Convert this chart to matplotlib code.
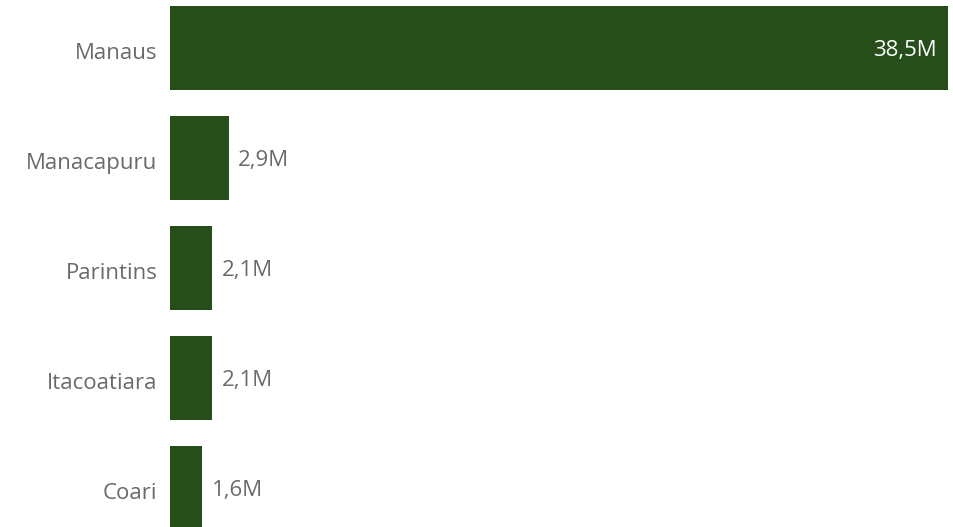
import matplotlib.pyplot as plt
import matplotlib.transforms as mtransforms

# cidades do Amazonas e valores (milhões)
cidades = ['Manaus', 'Manacapuru', 'Parintins', 'Itacoatiara', 'Coari']
valores = [38.5, 2.9, 2.1, 2.1, 1.6]
rotulos = ['38,5M', '2,9M', '2,1M', '2,1M', '1,6M']

verde = '#254e1a'
cinza = '#6a6a6a'

plt.rcParams['font.family'] = ['Open Sans', 'DejaVu Sans']

fig = plt.figure(figsize=(9.54, 5.27), dpi=100)
ax = fig.add_axes([170 / 954, 0, 778 / 954, 1])

pos = list(range(len(cidades)))
ax.barh(pos, valores, height=0.76, color=verde)

ax.set_xlim(0, valores[0])
ax.set_ylim((527 - 48) / 110, -48 / 110)

ax.set_yticks(pos)
ax.set_yticklabels(cidades, color=cinza, fontsize=16)
ax.tick_params(axis='y', length=0, pad=9)
ax.set_xticks([])
for s in ax.spines.values():
    s.set_visible(False)

# desce um pouco os nomes das cidades
desloc = mtransforms.ScaledTranslation(0, -2 / 72, fig.dpi_scale_trans)
for lbl in ax.get_yticklabels():
    lbl.set_transform(lbl.get_transform() + desloc)

# rótulo dentro da barra grande, fora das pequenas
for i, (v, r) in enumerate(zip(valores, rotulos)):
    if v > 10:
        ax.annotate(r, (v, i), xytext=(-8, -2), textcoords='offset points',
                    ha='right', va='center', color='white', fontsize=16)
    else:
        ax.annotate(r, (v, i), xytext=(7, -2), textcoords='offset points',
                    ha='left', va='center', color=cinza, fontsize=16)

fig.savefig('out.png', dpi=100)
